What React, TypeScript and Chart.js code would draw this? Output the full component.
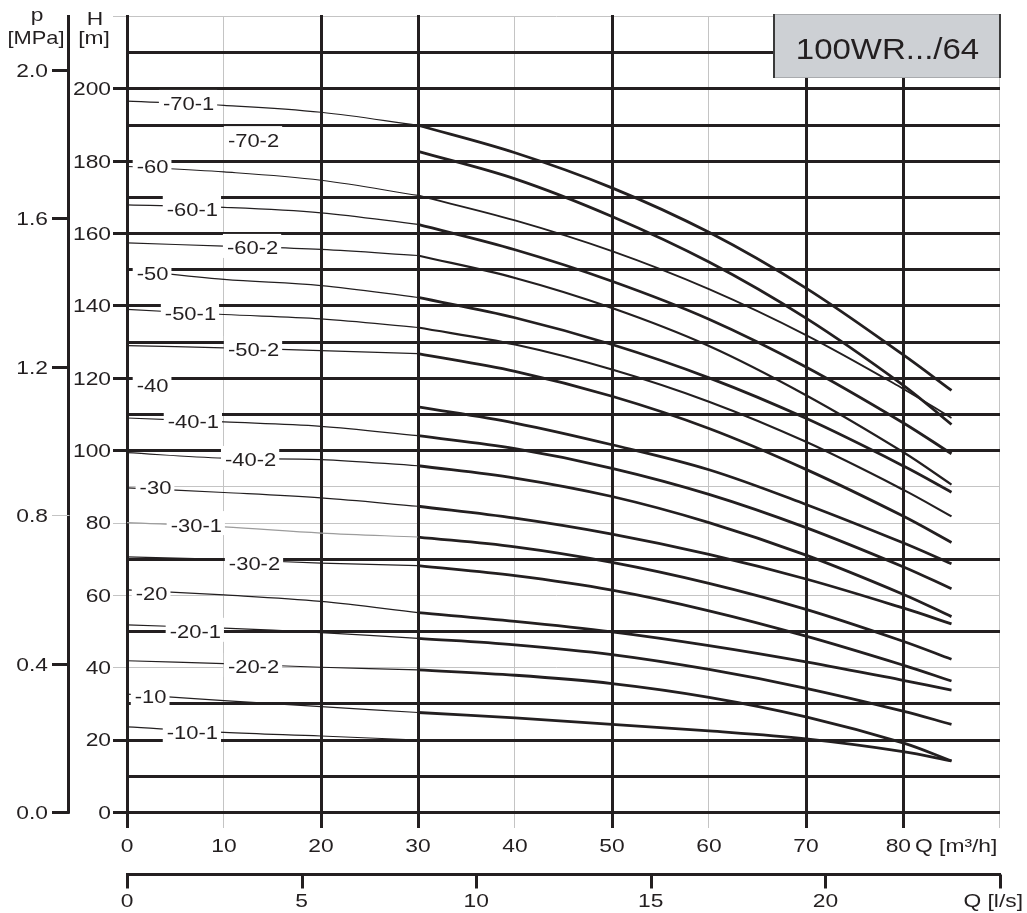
import React, { useEffect, useRef } from 'react';
import { Chart, registerables } from 'chart.js';

Chart.register(...registerables);

// ---- data -------------------------------------------------------------
// flow rate sample points Q [m³/h]
const Q_LOW = [0, 10, 20, 30];
const Q_HIGH = [30, 40, 50, 60, 70, 80, 85];

// head H [m] for every curve (low = thin part, high = thick part)
const H70_1_LOW = [196.5, 195.3, 193.4, 189.8];
const H70_1_HIGH = [189.8, 182.2, 172.5, 160.2, 144.8, 126.4, 116.5];
const H70_2_HIGH = [182.6, 175.0, 164.6, 152.0, 136.5, 118.0, 107.1];
const H60_LOW = [178.4, 176.9, 174.6, 170.4];
const H60_HIGH = [170.4, 163.5, 155.0, 144.5, 131.8, 117.0, 108.9];
const H60_1_LOW = [167.8, 167.1, 165.6, 162.4];
const H60_1_HIGH = [162.4, 155.4, 146.7, 136.2, 123.0, 107.6, 99.0];
const H60_2_LOW = [157.3, 156.4, 155.5, 153.8];
const H60_2_HIGH = [153.8, 147.6, 139.3, 128.8, 115.2, 99.5, 90.5];
const H50_LOW = [149.9, 147.2, 145.5, 142.2];
const H50_HIGH = [142.2, 136.6, 129.2, 120.0, 108.8, 95.7, 88.4];
const H50_1_LOW = [138.9, 137.5, 136.3, 133.9];
const H50_1_HIGH = [133.9, 129.2, 122.3, 113.4, 102.3, 89.1, 81.7];
const H50_2_LOW = [128.9, 128.3, 127.5, 126.7];
const H50_2_HIGH = [126.7, 121.8, 114.9, 106.0, 94.7, 81.8, 74.5];
const H40_HIGH = [112.0, 107.5, 101.5, 94.6, 85.0, 74.4, 68.6];
const H40_1_LOW = [108.9, 107.8, 106.6, 104.0];
const H40_1_HIGH = [104.0, 100.4, 95.0, 87.8, 78.6, 67.8, 61.7];
const H40_2_LOW = [99.3, 97.8, 97.4, 95.7];
const H40_2_HIGH = [95.7, 92.3, 87.2, 80.0, 71.0, 60.2, 54.0];
const H30_LOW = [89.6, 88.3, 86.8, 84.5];
const H30_HIGH = [84.5, 81.2, 76.8, 71.2, 64.4, 56.4, 52.0];
const H30_1_LOW = [80.0, 78.8, 77.1, 76.0];
const H30_1_HIGH = [76.0, 73.3, 69.0, 63.2, 56.0, 47.2, 42.2];
const H30_2_LOW = [70.5, 69.8, 68.8, 68.1];
const H30_2_HIGH = [68.1, 65.3, 61.3, 55.6, 48.6, 40.6, 36.2];
const H20_LOW = [61.4, 60.0, 58.2, 55.1];
const H20_HIGH = [55.1, 52.7, 49.8, 46.0, 41.5, 36.4, 33.7];
const H20_1_LOW = [51.7, 50.8, 49.6, 48.0];
const H20_1_HIGH = [48.0, 46.2, 43.5, 39.4, 34.2, 27.9, 24.2];
const H20_2_LOW = [41.8, 41.0, 40.0, 39.3];
const H20_2_HIGH = [39.3, 37.8, 35.5, 31.7, 26.3, 19.1, 14.1];
const H10_LOW = [32.6, 30.8, 29.1, 27.5];
const H10_HIGH = [27.5, 26.0, 24.2, 22.4, 20.2, 16.7, 14.1];
const H10_1_LOW = [23.5, 22.0, 21.0, 19.9];

// curve names and the (Q, H) anchor of each name label
const CURVE_NAMES = ['-70-1', '-70-2', '-60', '-60-1', '-60-2', '-50', '-50-1', '-50-2', '-40', '-40-1', '-40-2', '-30', '-30-1', '-30-2', '-20', '-20-1', '-20-2', '-10', '-10-1'];
const LOW_SERIES = [H70_1_LOW, null, H60_LOW, H60_1_LOW, H60_2_LOW, H50_LOW, H50_1_LOW, H50_2_LOW, null, H40_1_LOW, H40_2_LOW, H30_LOW, H30_1_LOW, H30_2_LOW, H20_LOW, H20_1_LOW, H20_2_LOW, H10_LOW, H10_1_LOW];
const HIGH_SERIES = [H70_1_HIGH, H70_2_HIGH, H60_HIGH, H60_1_HIGH, H60_2_HIGH, H50_HIGH, H50_1_HIGH, H50_2_HIGH, H40_HIGH, H40_1_HIGH, H40_2_HIGH, H30_HIGH, H30_1_HIGH, H30_2_HIGH, H20_HIGH, H20_1_HIGH, H20_2_HIGH, H10_HIGH, null];
const LABEL_Q = [3.7, 10.4, 1.0, 4.1, 10.3, 1.0, 3.9, 10.4, 1.0, 4.2, 10.1, 1.3, 4.5, 10.5, 0.9, 4.4, 10.4, 0.8, 4.1];
const LABEL_H = [195.7, 185.7, 178.5, 166.4, 155.9, 148.7, 137.9, 127.7, 118.0, 107.8, 97.3, 89.6, 79.3, 68.8, 60.3, 49.8, 40.1, 31.8, 22.1];

// axes
const Q_MAX = 90;
const H_MAX = 220;
const P_MAX = 2.1456;
const LS_MAX = 25;
const H_TICKS = [0, 20, 40, 60, 80, 100, 120, 140, 160, 180, 200];
const H_GRID_THICK = [0, 10, 20, 30, 50, 70, 100, 110, 120, 130, 140, 150, 160, 170, 180, 190, 200, 210];
const H_GRID_THIN = [40, 60, 80, 90, 220];
const Q_TICKS = [0, 10, 20, 30, 40, 50, 60, 70];
const Q_GRID_THICK = [0, 20, 30, 50, 70, 80];
const Q_GRID_THIN = [10, 40, 60, 90];
const P_TICKS = [0, 0.4, 0.8, 1.2, 1.6, 2.0];
const P_TICK_LABELS = ['0.0', '0.4', '0.8', '1.2', '1.6', '2.0'];
const LS_TICKS = [0, 5, 10, 15, 20, 25];
const LS_LABELS = ['0', '5', '10', '15', '20'];
const TITLE = '100WR.../64';

// ---- styling ----------------------------------------------------------
const INK = '#231f20';
const GRAY = '#c4c4c4';
const FONT = '"Liberation Sans", Arial, Helvetica, sans-serif';

function drawText(ctx: CanvasRenderingContext2D, s: string, x: number, y: number, size: number, align: CanvasTextAlign, sx = 1.2, color = INK) {
  ctx.save();
  ctx.font = `${size}px ${FONT}`;
  (ctx as any).letterSpacing = '0px';
  ctx.textAlign = align;
  ctx.textBaseline = 'alphabetic';
  ctx.fillStyle = color;
  ctx.translate(x, y);
  ctx.scale(sx, 1);
  ctx.fillText(s, 0, 0);
  ctx.restore();
}

function textWidth(ctx: CanvasRenderingContext2D, s: string, size: number, sx = 1.2) {
  ctx.save();
  ctx.font = `${size}px ${FONT}`;
  (ctx as any).letterSpacing = '0px';
  const w = ctx.measureText(s).width * sx;
  ctx.restore();
  return w;
}

function seg(ctx: CanvasRenderingContext2D, x1: number, y1: number, x2: number, y2: number) {
  ctx.beginPath();
  ctx.moveTo(x1, y1);
  ctx.lineTo(x2, y2);
  ctx.stroke();
}

// grid lines with a label get a short tick to the left of the plot
function tickStart(h: number, L: number) {
  return h % 20 === 0 ? L - 14 : L;
}

const decorPlugin = {
  id: 'pumpDecor',
  beforeDatasetsDraw(chart: any) {
    const ctx: CanvasRenderingContext2D = chart.ctx;
    const x = chart.scales.x;
    const y = chart.scales.y;
    const L = x.getPixelForValue(0);
    const R = x.getPixelForValue(Q_MAX);
    const T = y.getPixelForValue(H_MAX);
    const B = y.getPixelForValue(0);
    ctx.save();
    ctx.lineCap = 'butt';
    ctx.strokeStyle = GRAY;
    ctx.lineWidth = 1;
    for (const h of H_GRID_THIN) {
      const py = Math.round(y.getPixelForValue(h)) + 0.5;
      seg(ctx, tickStart(h, L), py, R, py);
    }
    for (const q of Q_GRID_THIN) {
      const px = Math.round(x.getPixelForValue(q)) - 0.5;
      seg(ctx, px, T, px, B + 16);
    }
    ctx.strokeStyle = INK;
    ctx.lineWidth = 3;
    for (const h of H_GRID_THICK) {
      const py = Math.round(y.getPixelForValue(h)) + 0.5;
      seg(ctx, tickStart(h, L), py, R, py);
    }
    for (const q of Q_GRID_THICK) {
      const px = Math.round(x.getPixelForValue(q)) + 0.5;
      seg(ctx, px, T - 1, px, B + 16);
    }
    ctx.restore();
  },
  afterDatasetsDraw(chart: any) {
    const ctx: CanvasRenderingContext2D = chart.ctx;
    const x = chart.scales.x;
    const y = chart.scales.y;
    ctx.save();
    CURVE_NAMES.forEach((name, i) => {
      const px = x.getPixelForValue(LABEL_Q[i]);
      const py = y.getPixelForValue(LABEL_H[i]);
      const w = textWidth(ctx, name, 18, 1.22);
      ctx.fillStyle = '#ffffff';
      ctx.fillRect(px - 4, py - 14, w + 7, 24);
      drawText(ctx, name, px, py + 6.5, 18, 'left', 1.22);
    });
    ctx.restore();
  },
  afterDraw(chart: any) {
    const ctx: CanvasRenderingContext2D = chart.ctx;
    const x = chart.scales.x;
    const y = chart.scales.y;
    const p = chart.scales.p;
    const ls = chart.scales.ls;
    const L = x.getPixelForValue(0);
    const R = x.getPixelForValue(Q_MAX);
    const T = y.getPixelForValue(H_MAX);
    const B = y.getPixelForValue(0);
    ctx.save();

    // H axis labels
    for (const h of H_TICKS) {
      drawText(ctx, String(h), L - 16, y.getPixelForValue(h) + 6.8, 19, 'right');
    }
    drawText(ctx, 'H', 95, 25, 19, 'center');
    drawText(ctx, '[m]', 94, 44, 19, 'center');

    // p axis
    const pAxisX = 68.5;
    ctx.strokeStyle = INK;
    ctx.lineWidth = 3;
    seg(ctx, pAxisX, T - 1, pAxisX, B + 1.5);
    P_TICKS.forEach((v, i) => {
      const py = Math.round(p.getPixelForValue(v)) + 0.5;
      if (v === 0.8) {
        ctx.strokeStyle = GRAY;
        ctx.lineWidth = 1;
      } else {
        ctx.strokeStyle = INK;
        ctx.lineWidth = 3;
      }
      seg(ctx, 52, py, pAxisX + 1, py);
      drawText(ctx, P_TICK_LABELS[i], 48, py + 6.8, 19, 'right');
    });
    drawText(ctx, 'p', 37, 21, 19, 'center');
    drawText(ctx, '[MPa]', 36, 44, 19, 'center', 1.15);

    // Q [m³/h] labels
    for (const q of Q_TICKS) {
      drawText(ctx, String(q), x.getPixelForValue(q), 852, 19, 'center');
    }
    const p80 = x.getPixelForValue(80);
    drawText(ctx, '80', p80 + 8, 852, 19, 'right');
    drawText(ctx, 'Q [m³/h]', p80 + 12, 852, 19, 'left');

    // Q [l/s] axis
    const lsY = 874.5;
    ctx.strokeStyle = INK;
    ctx.lineWidth = 3;
    seg(ctx, L - 1, lsY, R + 1, lsY);
    for (const v of LS_TICKS) {
      const px = Math.round(ls.getPixelForValue(v)) + 0.5;
      seg(ctx, px, lsY, px, lsY + 14);
    }
    LS_LABELS.forEach((s, i) => {
      drawText(ctx, s, ls.getPixelForValue(LS_TICKS[i]), 907, 19, 'center');
    });
    drawText(ctx, 'Q [l/s]', 1023, 907, 19, 'right');

    // title box
    const bx = 773, bw = R - bx, by = T - 2, bh = 64;
    ctx.fillStyle = '#cdd0d4';
    ctx.fillRect(bx, by, bw + 1, bh);
    ctx.strokeStyle = '#a9abae';
    ctx.lineWidth = 1;
    seg(ctx, bx, by + 0.5, R, by + 0.5);
    seg(ctx, bx, by + bh - 0.5, R, by + bh - 0.5);
    ctx.strokeStyle = '#3a3a3a';
    ctx.lineWidth = 2;
    seg(ctx, bx + 1, by, bx + 1, by + bh);
    seg(ctx, R, by, R, by + bh);
    drawText(ctx, TITLE, bx + bw / 2 + 1, by + 45, 30, 'center', 1.1, '#231f20');

    ctx.restore();
  },
};

function buildDatasets() {
  const sets: any[] = [];
  CURVE_NAMES.forEach((name, i) => {
    const low = LOW_SERIES[i];
    const high = HIGH_SERIES[i];
    if (low) {
      sets.push({
        label: name + ' low',
        data: Q_LOW.map((q, k) => ({ x: q, y: low[k] })),
        borderColor: name === '-30-1' ? '#9c9c9c' : INK,
        borderWidth: 1.2,
      });
    }
    if (high) {
      let w = 2.8;
      if (name === '-60') w = 1.8;
      if (name === '-60-2' || name === '-50-1') w = 2.2;
      sets.push({
        label: name + ' high',
        data: Q_HIGH.map((q, k) => ({ x: q, y: high[k] })),
        borderColor: INK,
        borderWidth: w,
      });
    }
  });
  return sets;
}

export default function App() {
  const ref = useRef<HTMLCanvasElement | null>(null);
  useEffect(() => {
    if (!ref.current) return;
    const chart = new Chart(ref.current, {
      type: 'line',
      data: { datasets: buildDatasets() },
      options: {
        animation: false,
        responsive: false,
        devicePixelRatio: 1,
        layout: { padding: { left: 127, right: 27, top: 16, bottom: 101 } },
        elements: {
          point: { radius: 0, hoverRadius: 0 },
          line: { tension: 0.35, borderJoinStyle: 'round', fill: false },
        },
        plugins: { legend: { display: false }, tooltip: { enabled: false }, title: { display: false } },
        events: [],
        scales: {
          x: { type: 'linear', min: 0, max: Q_MAX, display: false },
          y: { type: 'linear', min: 0, max: H_MAX, display: false },
          p: { type: 'linear', axis: 'y', position: 'left', min: 0, max: P_MAX, display: false },
          ls: { type: 'linear', axis: 'x', position: 'bottom', min: 0, max: LS_MAX, display: false },
        },
      } as any,
      plugins: [decorPlugin],
    });
    return () => chart.destroy();
  }, []);
  return (
    <div style={{ position: 'absolute', left: 0, top: 0, width: 1027, height: 913, background: '#ffffff' }}>
      <canvas ref={ref} width={1027} height={913} style={{ width: 1027, height: 913, display: 'block' }} />
    </div>
  );
}
